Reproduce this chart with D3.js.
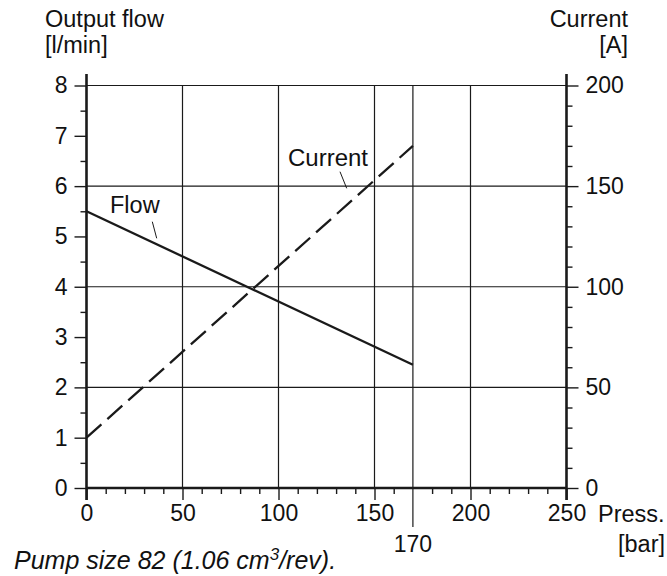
<!DOCTYPE html>
<html>
<head>
<meta charset="utf-8">
<script src="https://cdn.jsdelivr.net/npm/d3@7/dist/d3.min.js"></script>
<style>
  html, body { margin: 0; padding: 0; background: #fff; }
  svg { display: block; }
  text { font-family: "Liberation Sans", Arial, Helvetica, sans-serif; fill: #111; }
</style>
</head>
<body>
<svg id="chart" width="667" height="576"></svg>
<script>
// ---- data ----
const pressure = [0, 170];          // bar
const flow = [5.5, 2.45];           // l/min
const current = [25, 170];          // A
const xTicks = [0, 50, 100, 150, 200, 250];
const xExtraTick = 170;
const leftTicks = [0, 1, 2, 3, 4, 5, 6, 7, 8];
const rightTicks = [0, 50, 100, 150, 200];
const hGrid = [2, 4, 6, 8];
const vGrid = [50, 100, 150, 200];

const svg = d3.select("#chart");
const ink = "#1a1a1a";
const FS = 23;      // tick labels
const FT = 23.5;    // titles / labels

const x = d3.scaleLinear().domain([0, 250]).range([86.5, 566.5]);
const yL = d3.scaleLinear().domain([0, 8]).range([488, 85.5]);
const yR = d3.scaleLinear().domain([0, 200]).range([488, 85.5]);

// grid
const grid = svg.append("g").attr("stroke", ink).attr("stroke-width", 1.2);
grid.selectAll("line.h").data(hGrid).join("line")
  .attr("x1", x(0)).attr("x2", x(250))
  .attr("y1", d => yL(d)).attr("y2", d => yL(d));
grid.selectAll("line.v").data(vGrid).join("line")
  .attr("x1", d => x(d)).attr("x2", d => x(d))
  .attr("y1", yL(0)).attr("y2", yL(8));
grid.append("line")
  .attr("x1", x(xExtraTick)).attr("x2", x(xExtraTick))
  .attr("y1", 527).attr("y2", yL(8));

function styleAxis(g, size) {
  g.select(".domain").remove();
  g.selectAll(".tick line").attr("stroke", ink).attr("stroke-width", 1.4);
  g.selectAll(".tick text").attr("font-size", size || FS).attr("fill", ink)
    .attr("font-family", '"Liberation Sans", Arial, Helvetica, sans-serif');
}

// left axis
const leftMinor = d3.range(0.5, 8, 1);
svg.append("g").attr("transform", `translate(${x(0)},0)`)
  .call(d3.axisLeft(yL).tickValues(leftMinor).tickSize(6).tickFormat(""))
  .call(g => styleAxis(g));
svg.append("g").attr("transform", `translate(${x(0)},0)`)
  .call(d3.axisLeft(yL).tickValues(leftTicks).tickSize(12).tickPadding(7).tickFormat(d3.format("d")))
  .call(g => styleAxis(g));

// right axis
const rightMinor = d3.range(10, 200, 10).filter(d => d % 50 !== 0);
svg.append("g").attr("transform", `translate(${x(250)},0)`)
  .call(d3.axisRight(yR).tickValues(rightMinor).tickSize(6).tickFormat(""))
  .call(g => styleAxis(g));
svg.append("g").attr("transform", `translate(${x(250)},0)`)
  .call(d3.axisRight(yR).tickValues(rightTicks).tickSize(12).tickPadding(7).tickFormat(d3.format("d")))
  .call(g => styleAxis(g));

// bottom axis
const bottomMinor = d3.range(10, 250, 10).filter(d => d % 50 !== 0 && d !== xExtraTick);
svg.append("g").attr("transform", `translate(0,${yL(0)})`)
  .call(d3.axisBottom(x).tickValues(bottomMinor).tickSize(6).tickFormat(""))
  .call(g => styleAxis(g));
svg.append("g").attr("transform", `translate(0,${yL(0)})`)
  .call(d3.axisBottom(x).tickValues(xTicks).tickSize(12).tickPadding(5).tickFormat(d3.format("d")))
  .call(g => styleAxis(g));

// axis lines (thick)
const axes = svg.append("g").attr("stroke", ink).attr("stroke-width", 2.6);
axes.append("line").attr("x1", x(0)).attr("x2", x(0)).attr("y1", 74).attr("y2", yL(0) + 12);
axes.append("line").attr("x1", x(250)).attr("x2", x(250)).attr("y1", 74).attr("y2", yL(0) + 12);
axes.append("line").attr("x1", x(0)).attr("x2", x(250)).attr("y1", yL(0)).attr("y2", yL(0));

// 170 label
svg.append("text").attr("x", x(xExtraTick)).attr("y", 552).attr("text-anchor", "middle")
  .attr("font-size", FS).text(xExtraTick);

// data lines
const flowPts = pressure.map((p, i) => [p, flow[i]]);
const curPts = pressure.map((p, i) => [p, current[i]]);
svg.append("path").datum(flowPts)
  .attr("fill", "none").attr("stroke", ink).attr("stroke-width", 2.3)
  .attr("d", d3.line().x(d => x(d[0])).y(d => yL(d[1])));
svg.append("path").datum(curPts)
  .attr("fill", "none").attr("stroke", ink).attr("stroke-width", 2.3)
  .attr("stroke-dasharray", "20,8")
  .attr("d", d3.line().x(d => x(d[0])).y(d => yR(d[1])));

// series labels + leaders
svg.append("text").attr("x", 110).attr("y", 213).attr("font-size", FT).text("Flow");
svg.append("line").attr("x1", 152.3).attr("y1", 221.7).attr("x2", 156.7).attr("y2", 238.3)
  .attr("stroke", ink).attr("stroke-width", 1);
svg.append("text").attr("x", 288).attr("y", 166).attr("font-size", FT + 0.5).text("Current");
svg.append("line").attr("x1", 340).attr("y1", 171.7).attr("x2", 346.7).attr("y2", 188.3)
  .attr("stroke", ink).attr("stroke-width", 1);

// axis titles
svg.append("text").attr("x", 45).attr("y", 27).attr("font-size", FT).text("Output flow");
svg.append("text").attr("x", 45).attr("y", 53).attr("font-size", FT).text("[l/min]");
svg.append("text").attr("x", 628).attr("y", 27).attr("font-size", FT).attr("text-anchor", "end").text("Current");
svg.append("text").attr("x", 628).attr("y", 53).attr("font-size", FT).attr("text-anchor", "end").text("[A]");
svg.append("text").attr("x", 598).attr("y", 522).attr("font-size", FT).text("Press.");
svg.append("text").attr("x", 665).attr("y", 552).attr("font-size", FT).attr("text-anchor", "end").text("[bar]");

// caption
const cap = svg.append("text").attr("x", 14).attr("y", 569).attr("font-size", 25).attr("font-style", "italic");
cap.append("tspan").text("Pump size 82 (1.06 cm");
cap.append("tspan").attr("font-size", 17).attr("dy", -9).text("3");
cap.append("tspan").attr("dy", 9).text("/rev).");
</script>
</body>
</html>
